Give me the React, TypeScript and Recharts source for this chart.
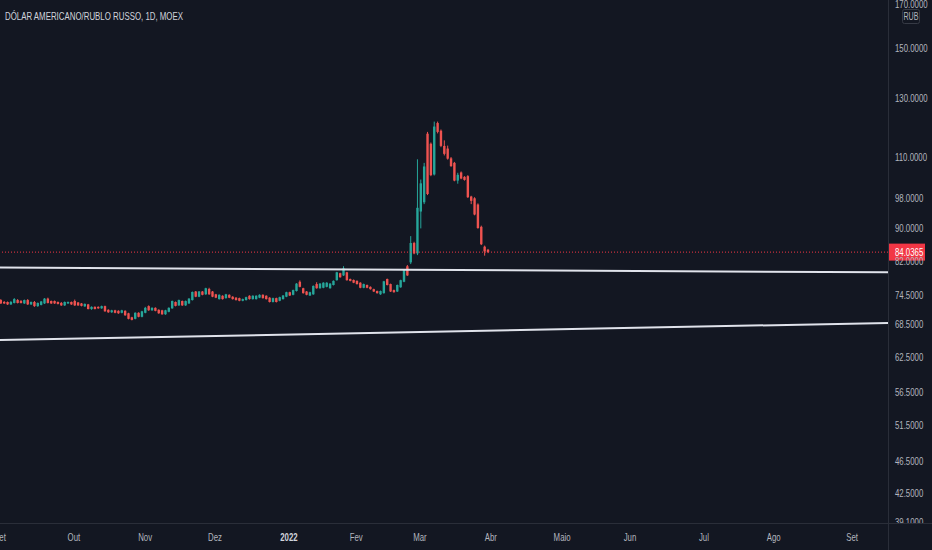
import React from 'react';
import { ComposedChart, Bar, XAxis, YAxis, ReferenceLine } from 'recharts';

// daily candles, USD/RUB on MOEX, Sep 2021 -> late Mar 2022
const opens = [
  73.36, 72.96, 72.96, 72.46, 72.76, 73.36, 73.16, 72.66, 73.36, 72.46,
  72.96, 72.11, 72.36, 72.66, 73.66, 73.16, 73.16, 72.96, 72.76, 72.26,
  72.66, 72.96, 73.16, 72.86, 72.66, 72.06, 72.46, 71.51, 71.96, 71.96,
  71.66, 72.11, 71.36, 70.86, 71.26, 71.16, 70.76, 71.16, 70.66, 69.86,
  69.56, 70.76, 69.96, 70.76, 72.11, 71.26, 71.76, 71.36, 71.26, 70.46,
  70.96, 71.66, 72.96, 72.26, 73.16, 72.26, 72.66, 73.36, 75.16, 74.06,
  75.16, 74.56, 75.71, 75.16, 74.56, 73.56, 74.26, 73.76, 74.46, 74.06,
  73.86, 73.76, 73.21, 73.36, 74.26, 73.56, 73.56, 73.86, 74.46, 74.26,
  73.86, 72.96, 73.76, 73.21, 73.56, 74.06, 75.01, 74.46, 75.26, 77.26,
  75.86, 75.16, 74.31, 74.56, 76.76, 75.86, 75.96, 76.16, 75.86, 76.56,
  77.61, 79.16, 78.66, 79.36, 77.86, 77.66, 77.46, 77.06, 75.96, 76.56,
  76.16, 75.66, 75.26, 74.56, 74.81, 77.86, 76.76, 75.46, 75.16, 76.06,
  77.26, 80.73, 81.63, 86.23, 83.73, 94.28, 96.78, 117.55, 114.25, 104.72,
  121.15, 118.55, 113.55, 112.7, 109.62, 108.22, 102.92, 105.32, 104.02, 104.22,
  98.38, 97.88, 96.18, 90.28, 85.35, 84.6,
];
const highs = [
  73.56, 73.16, 73.06, 73.16, 73.76, 73.56, 73.36, 73.46, 73.56, 73.06,
  73.16, 72.86, 73.16, 73.76, 73.86, 73.26, 73.26, 73.06, 72.96, 73.06,
  73.06, 73.06, 73.46, 72.96, 72.76, 72.66, 72.56, 72.06, 72.06, 72.06,
  72.21, 72.21, 71.46, 71.36, 71.36, 71.26, 71.36, 71.26, 70.76, 69.96,
  70.86, 70.86, 71.16, 71.96, 72.26, 71.86, 71.86, 71.46, 71.36, 71.36,
  71.86, 73.26, 73.06, 73.46, 73.26, 73.26, 73.76, 75.16, 75.26, 75.26,
  75.26, 75.96, 75.96, 75.26, 74.66, 74.56, 74.36, 74.66, 74.56, 74.16,
  73.96, 73.86, 73.66, 74.06, 74.36, 74.36, 74.36, 74.56, 74.56, 74.36,
  73.96, 73.86, 73.86, 74.06, 74.41, 75.11, 75.11, 75.56, 76.96, 77.56,
  75.96, 75.26, 75.11, 76.46, 77.16, 76.96, 77.16, 77.16, 76.96, 77.56,
  79.46, 79.26, 80.75, 79.46, 77.96, 77.76, 77.56, 77.16, 76.86, 76.66,
  76.26, 75.76, 75.36, 75.36, 77.46, 77.96, 76.86, 75.56, 76.66, 77.71,
  79.96, 81.03, 87.93, 86.53, 109.32, 103.22, 108.22, 118.15, 114.65, 121.65,
  121.65, 118.95, 115.35, 113.65, 110.02, 108.52, 105.22, 105.62, 104.22, 104.52,
  98.58, 98.18, 96.48, 90.58, 85.6, 84.8,
];
const lows = [
  72.56, 72.56, 72.36, 72.36, 72.66, 72.66, 72.66, 72.56, 72.36, 72.36,
  71.96, 71.96, 72.26, 72.56, 72.66, 72.56, 72.56, 72.46, 72.16, 72.16,
  72.56, 72.36, 72.16, 72.16, 72.06, 71.96, 71.46, 71.36, 71.46, 71.56,
  71.56, 70.96, 70.76, 70.76, 70.66, 70.56, 70.66, 70.16, 69.46, 69.26,
  69.46, 69.86, 69.86, 70.66, 71.16, 71.16, 71.06, 70.56, 70.36, 70.36,
  70.86, 71.56, 72.06, 72.16, 72.16, 72.16, 72.56, 73.26, 73.96, 73.96,
  74.36, 74.46, 74.46, 73.96, 73.76, 73.46, 73.46, 73.66, 73.76, 73.46,
  73.26, 73.11, 73.11, 73.26, 73.46, 73.46, 73.46, 73.76, 73.66, 73.46,
  72.86, 72.86, 72.86, 73.11, 73.46, 73.96, 74.21, 74.36, 75.16, 76.06,
  74.71, 74.36, 74.21, 74.46, 75.76, 75.76, 75.86, 76.06, 75.76, 76.46,
  77.51, 78.16, 78.56, 77.51, 77.36, 76.96, 76.66, 75.86, 75.86, 75.86,
  75.56, 75.06, 74.71, 74.46, 74.71, 76.46, 75.06, 74.91, 75.06, 75.96,
  77.16, 78.56, 81.23, 83.53, 83.33, 89.88, 96.28, 98.78, 104.22, 104.42,
  117.65, 113.15, 110.52, 109.22, 107.02, 102.72, 102.02, 103.32, 102.92, 97.98,
  96.28, 93.28, 89.78, 85.73, 83.2, 83.8,
];
const closes = [
  72.66, 72.66, 72.46, 72.96, 73.56, 72.76, 72.76, 73.36, 72.46, 72.96,
  72.11, 72.76, 73.06, 73.66, 72.76, 72.66, 72.66, 72.56, 72.26, 72.96,
  72.96, 72.46, 72.26, 72.26, 72.16, 72.56, 71.51, 71.96, 71.51, 71.66,
  72.11, 71.06, 70.86, 71.26, 70.76, 70.66, 71.26, 70.26, 69.56, 69.36,
  70.76, 69.96, 71.06, 71.76, 71.26, 71.76, 71.16, 70.66, 70.46, 71.26,
  71.76, 73.16, 72.16, 73.36, 72.26, 73.16, 73.66, 75.06, 74.06, 75.16,
  74.46, 75.86, 74.56, 74.06, 73.86, 74.46, 73.56, 74.56, 73.86, 73.56,
  73.36, 73.21, 73.56, 73.96, 73.56, 74.26, 74.26, 74.46, 73.76, 73.56,
  72.96, 73.76, 72.96, 73.96, 74.31, 75.01, 74.31, 75.46, 76.86, 76.16,
  74.81, 74.46, 75.01, 76.36, 75.86, 76.86, 77.06, 77.06, 76.86, 77.46,
  79.36, 78.26, 80.26, 77.61, 77.46, 77.06, 76.76, 75.96, 76.76, 75.96,
  75.66, 75.16, 74.81, 75.26, 77.36, 76.56, 75.16, 75.01, 76.56, 77.61,
  79.86, 78.66, 86.23, 83.73, 95.28, 102.12, 107.12, 99.08, 104.52, 119.95,
  118.15, 113.55, 111.02, 109.52, 107.22, 102.92, 104.62, 103.52, 103.12, 98.18,
  97.18, 93.48, 89.98, 85.93, 84.2, 84.0365,
];

// time axis in trading-day units (1 = first candle)
const monthTicks = [0.7, 22.7, 43.9, 64.7, 86.7, 106.7, 125.7, 146.8, 168, 188.2, 210.2, 231, 254.3];
const monthLabels = ['Set', 'Out', 'Nov', 'Dez', '2022', 'Fev', 'Mar', 'Abr', 'Maio', 'Jun', 'Jul', 'Ago', 'Set'];
const priceTicks = [39.1, 42.5, 46.5, 51.5, 56.5, 62.5, 68.5, 74.5, 82, 90, 98, 110, 130, 150, 170];
const lastPrice = 84.0365;
// drawn trend lines: value at left edge, value at right edge
const upperLine = [80.45, 79.36];
const lowerLine = [65.49, 68.75];

const X_DOMAIN: [number, number] = [0.7, 265];
const Y_DOMAIN: [number, number] = [39.0, 171.7];
const UP = '#26a69a';
const DOWN = '#ef5350';
const BG = '#131722';
const BORDER = '#2a2e39';
const FONT = "'Liberation Sans', Arial, sans-serif";
const SQUEEZE = 0.68;

const data = opens.map((o, i) => ({
  t: i + 1,
  o,
  h: highs[i],
  l: lows[i],
  c: closes[i],
  range: [lows[i], highs[i]],
}));

const Candle = (props: any) => {
  const { x, y, width, height, payload } = props;
  if (x == null || y == null || !payload) return null;
  const { o, h, l, c } = payload;
  const top = Math.min(y, y + height);
  const hgt = Math.abs(height);
  const span = Math.log(h) - Math.log(l);
  const py = (v: number) => top + (span > 0 ? (hgt * (Math.log(h) - Math.log(v))) / span : 0);
  const cx = x + width / 2;
  const color = c >= o ? UP : DOWN;
  const bTop = py(Math.max(o, c));
  const bBot = py(Math.min(o, c));
  return (
    <g>
      <line x1={cx} x2={cx} y1={top} y2={top + hgt} stroke={color} strokeWidth={1} />
      <rect x={cx - 1.2} y={bTop} width={2.4} height={Math.max(bBot - bTop, 1)} fill={color} />
    </g>
  );
};

const MonthTick = ({ x, y, payload, index }: any) => {
  let i = monthTicks.indexOf(payload.value);
  if (i < 0) i = index;
  const label = monthLabels[i];
  const bold = label === '2022';
  return (
    <text
      transform={`translate(${x},${y + 17.5}) scale(${SQUEEZE},1)`}
      textAnchor="middle"
      fill={bold ? '#d1d4dc' : '#b2b5be'}
      fontSize={11.5}
      fontWeight={bold ? 700 : 400}
      fontFamily={FONT}
    >
      {label}
    </text>
  );
};

const PriceTick = ({ x, y, payload }: any) => (
  <text
    transform={`translate(${x + 7},${y + 4}) scale(${SQUEEZE},1)`}
    fill="#b2b5be"
    fontSize={11.5}
    fontFamily={FONT}
  >
    {Number(payload.value).toFixed(4)}
  </text>
);

const PriceLabel = ({ viewBox }: any) => {
  if (!viewBox) return null;
  const left = viewBox.x + viewBox.width;
  return (
    <g>
      <rect x={left} y={viewBox.y - 8.5} width={37} height={17} fill="#f23645" />
      <text
        transform={`translate(${left + 7},${viewBox.y + 4}) scale(${SQUEEZE},1)`}
        fill="#ffffff"
        fontSize={11.5}
        fontFamily={FONT}
      >
        {lastPrice.toFixed(4)}
      </text>
    </g>
  );
};

export default function App() {
  return (
    <div style={{ position: 'absolute', left: 0, top: 0, width: 932, height: 550, background: BG, overflow: 'hidden' }}>
      <ComposedChart width={932} height={550} data={data} margin={{ top: 0, right: 0, bottom: 0, left: 0 }}>
        <XAxis
          dataKey="t"
          type="number"
          domain={X_DOMAIN}
          allowDataOverflow
          ticks={monthTicks}
          interval={0}
          height={27}
          axisLine={false}
          tickLine={false}
          tickSize={0}
          tickMargin={0}
          tick={<MonthTick />}
        />
        <YAxis
          orientation="right"
          scale="log"
          domain={Y_DOMAIN}
          allowDataOverflow
          ticks={priceTicks}
          interval={0}
          width={44}
          axisLine={false}
          tickLine={false}
          tickSize={0}
          tickMargin={0}
          tick={<PriceTick />}
        />
        <Bar dataKey="range" barSize={3} shape={<Candle />} isAnimationActive={false} />
        <ReferenceLine
          segment={[{ x: X_DOMAIN[0], y: upperLine[0] }, { x: X_DOMAIN[1], y: upperLine[1] }]}
          stroke="#e0e3eb"
          strokeWidth={2}
          ifOverflow="visible"
        />
        <ReferenceLine
          segment={[{ x: X_DOMAIN[0], y: lowerLine[0] }, { x: X_DOMAIN[1], y: lowerLine[1] }]}
          stroke="#e0e3eb"
          strokeWidth={2}
          ifOverflow="visible"
        />
        <ReferenceLine y={lastPrice} stroke="#f23645" strokeDasharray="1 2" label={<PriceLabel />} />
      </ComposedChart>
      <svg width={932} height={550} style={{ position: 'absolute', left: 0, top: 0, pointerEvents: 'none' }}>
        {/* the price scale clips its labels at the time-axis border */}
        <rect x={889} y={524} width={43} height={26} fill={BG} />
        <line x1={888.5} x2={888.5} y1={0} y2={550} stroke={BORDER} strokeWidth={1} />
        <line x1={0} x2={932} y1={523.5} y2={523.5} stroke={BORDER} strokeWidth={1} />
        <rect x={902.5} y={9.5} width={17} height={14} rx={2} fill={BG} stroke="#363a45" />
        <text
          transform={`translate(911,20) scale(${SQUEEZE},1)`}
          textAnchor="middle"
          fill="#b2b5be"
          fontSize={10.5}
          fontFamily={FONT}
        >
          RUB
        </text>
        <text
          x={5}
          y={19.5}
          fill="#d1d4dc"
          fontSize={11}
          fontFamily={FONT}
          textLength={178}
          lengthAdjust="spacingAndGlyphs"
        >
          DÓLAR AMERICANO/RUBLO RUSSO, 1D, MOEX
        </text>
      </svg>
    </div>
  );
}
